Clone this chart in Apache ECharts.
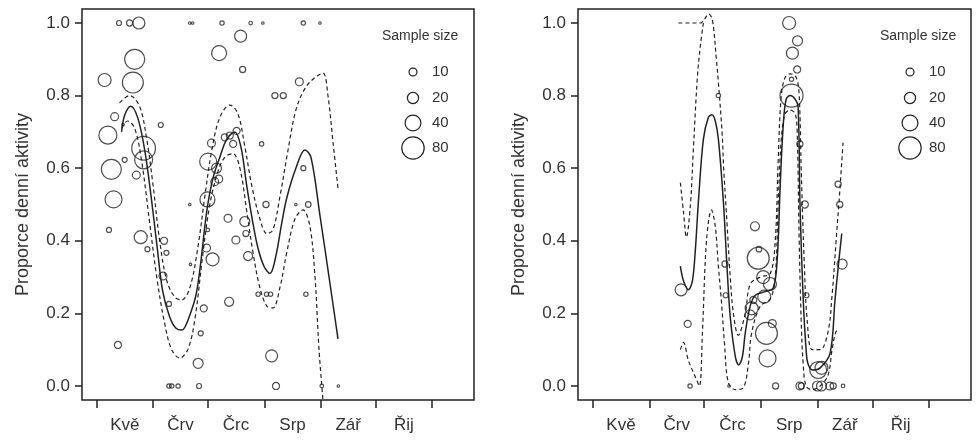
<!DOCTYPE html>
<html><head><meta charset="utf-8">
<script src="https://cdn.jsdelivr.net/npm/echarts@6/dist/echarts.min.js"></script>
<style>html,body{margin:0;padding:0;background:#fff}#c{width:976px;height:443px}</style>
</head><body><div id="c"></div>
<script>
// ---- axis / tick data ----
const monthLabels = ['Kvě','Črv','Črc','Srp','Zář','Řij'];
const monthStarts = [0, 31, 61, 92, 123, 153, 184];          // days since 1 May
const monthMids = [15.5, 46, 76.5, 107.5, 138, 168.5];
const yTicks = [0, 0.2, 0.4, 0.6, 0.8, 1.0];
const legendSizes = [10, 20, 40, 80];

// ---- left panel: observations (day, proportion, sample size) ----
const leftDay  = [12.3,18.1,23.2,4.4,20.9,19.9,9.9,14.5,6.2,15.4,25.8,25.8,21.8,8.1,9.3,6.8,24.2,27.9,11.7,35.2,37.0,38.3,36.4,39.7,51.1,51.5,39.7,41.2,44.7,56.2,58.8,57.1,55.7,52.7,51.1,60.8,61.2,65.8,63.0,64.8,67.0,60.3,63.6,61.0,67.2,68.8,79.0,80.1,70.3,73.1,76.8,74.9,72.1,76.4,81.3,81.9,83.1,72.7,84.5,91.2,90.5,92.9,97.8,102.4,88.6,93.2,95.4,96.0,98.4,111.2,113.4,122.5,109.3,116.1,113.4,114.8,123.5,132.6];
const leftProp = [1.0,1.0,1.0,0.843,0.90,0.836,0.742,0.72,0.691,0.623,0.655,0.623,0.581,0.597,0.514,0.43,0.41,0.377,0.113,0.719,0.40,0.367,0.303,0.226,0.50,0.335,0.0,0.0,0.0,0.0,0.214,0.145,0.0625,1.0,1.0,0.514,0.618,0.60,0.669,0.563,0.57,0.38,0.349,0.43,0.917,1.0,0.964,0.872,0.685,0.69,0.703,0.667,0.462,0.402,0.453,0.42,0.358,0.232,1.0,1.0,0.667,0.50,0.80,0.80,0.253,0.253,0.253,0.083,0.0,0.838,1.0,1.0,0.50,0.50,0.60,0.253,0.0,0.0];
const leftN    = [4,6,23,27,64,70,10,1,52,4,90,52,10,64,46,4,27,4,8,4,8,4,10,4,1,1,3,3,3,4,8,4,16,1,1,36,46,16,10,10,10,10,27,2,36,3,23,6,8,8,8,8,10,10,16,6,13,13,2,1,3,6,6,6,3,3,3,23,8,10,3,1,1,5,4,3,2,1];

// ---- left panel: fitted curve and confidence bands ----
const leftFitDay = [13.7,15.4,18.7,22.5,26.4,30.2,33.5,36.3,40.1,43.4,46.7,50.0,54.9,60.4,63.7,67.6,71.4,75.8,79.1,82.4,85.7,88.5,91.8,95.1,98.4,101.6,104.4,109.3,114.3,117.6,122.5,127.5,132.4];
const leftFit    = [0.70,0.746,0.771,0.74,0.65,0.51,0.37,0.26,0.19,0.16,0.154,0.18,0.26,0.48,0.57,0.63,0.68,0.70,0.66,0.55,0.45,0.38,0.33,0.31,0.36,0.45,0.52,0.60,0.65,0.63,0.47,0.30,0.13];
const leftUpDay  = [12.6,18.1,23.6,27.5,30.8,34.6,38.5,42.9,46.7,51.1,55.5,59.3,63.2,67.6,73.1,77.5,81.3,85.2,89.6,93.4,96.7,100.5,105.0,109.3,114.3,119.8,124.2,126.9,129.7,132.4];
const leftUp     = [0.78,0.80,0.77,0.68,0.56,0.40,0.29,0.245,0.237,0.27,0.38,0.52,0.65,0.74,0.774,0.75,0.66,0.55,0.46,0.42,0.43,0.52,0.65,0.76,0.82,0.85,0.862,0.80,0.67,0.545];
const leftLoDay  = [13.7,17.0,20.9,24.7,29.1,33.0,37.4,41.2,45.6,50.0,53.8,58.2,62.1,66.5,70.3,74.7,78.6,82.4,85.7,89.6,93.4,96.7,100.5,104.4,108.8,113.2,117.0,119.8,122.0,124.2];
const leftLo     = [0.71,0.73,0.71,0.62,0.45,0.30,0.17,0.10,0.077,0.10,0.18,0.36,0.50,0.59,0.63,0.64,0.60,0.48,0.37,0.27,0.22,0.215,0.27,0.37,0.46,0.485,0.44,0.30,0.10,-0.04];

// ---- right panel: observations ----
const rightDay  = [48.4,52.0,53.3,68.8,72.4,72.8,74.6,88.8,91.0,90.6,87.0,86.1,87.9,93.3,97.0,93.9,95.1,98.3,95.7,100.1,107.5,112.1,109.3,111.9,108.8,108.8,113.4,116.1,117.0,113.4,114.2,123.4,125.2,123.0,125.2,129.7,131.6,137.0,134.3,135.2,136.5];
const rightProp = [0.265,0.171,0.0,0.80,0.336,0.25,0.0,0.44,0.377,0.352,0.214,0.196,0.237,0.30,0.281,0.246,0.145,0.172,0.076,0.0,1.0,0.951,0.917,0.872,0.845,0.80,0.667,0.50,0.25,0.0,0.0,0.044,0.05,0.0,0.0,0.0,0.0,0.0,0.556,0.50,0.336];
const rightN    = [23,8,3,3,6,4,1,13,5,77,27,16,8,27,27,27,77,10,46,6,27,16,23,8,3,85,6,8,4,10,6,46,27,16,16,10,6,2,6,6,16];

// ---- right panel: fitted curve and confidence bands ----
const rightFitDay = [48.0,49.7,52.4,54.6,56.2,57.9,60.6,63.3,65.3,67.1,68.8,71.5,73.5,75.3,78.1,79.9,81.9,83.5,86.2,89.0,94.4,98.8,101.0,102.6,104.3,105.9,108.1,110.8,112.4,113.5,115.2,116.8,117.9,120.6,124.5,129.9,132.6,134.4,136.3];
const rightFit    = [0.33,0.29,0.265,0.29,0.375,0.51,0.68,0.74,0.747,0.73,0.68,0.51,0.33,0.19,0.08,0.058,0.08,0.146,0.22,0.25,0.26,0.27,0.35,0.55,0.72,0.79,0.80,0.79,0.77,0.49,0.24,0.10,0.06,0.044,0.05,0.09,0.237,0.33,0.42];
const rightUpDay  = [46.9,53.5,59.0,61.1,63.5,65.5,67.7,68.9,70.8,71.7,73.5,75.3,77.0,79.7,83.5,86.2,91.7,97.2,99.9,101.5,103.2,105.3,108.1,111.4,113.0,114.1,115.7,117.4,120.1,124.5,128.8,131.0,133.2,135.4,137.0];
const rightUp     = [1.0,1.0,1.0,1.01,1.025,1.01,0.90,0.83,0.70,0.60,0.45,0.30,0.20,0.14,0.20,0.28,0.30,0.31,0.40,0.62,0.80,0.85,0.86,0.85,0.80,0.60,0.35,0.18,0.10,0.10,0.15,0.25,0.40,0.55,0.67];
const rightUp2Day = [48.0,49.7,51.3,53.5,55.1,57.3,59.0,60.6];
const rightUp2    = [0.56,0.48,0.41,0.50,0.65,0.85,0.94,1.0];
const rightLoDay  = [48.0,49.7,52.4,56.2,58.4,60.1,62.3,65.0,67.1,68.8,70.4,72.1,74.2,78.1,82.4,85.2,87.0,91.7,97.2,99.9,101.5,103.2,105.3,108.1,110.8,111.9,113.0,114.1,115.2,116.8,120.1,124.5,128.8,131.0,133.2,135.2];
const rightLo     = [0.10,0.12,0.07,0.025,0.0,0.15,0.40,0.485,0.44,0.33,0.237,0.12,0.01,-0.01,-0.005,0.06,0.146,0.22,0.24,0.30,0.50,0.68,0.75,0.76,0.75,0.70,0.40,0.18,0.06,0.0,-0.01,0.0,0.03,0.10,0.15,0.155];

// ---- build ----
const zip = (...arrs) => arrs[0].map((_, i) => arrs.map(a => a[i]));
const sizeOf = n => 2.5 * Math.sqrt(n);
const FONT = 'Liberation Sans, Arial, sans-serif';
const INK = '#222';

function xAxisCfg(gi) {
  return {
    type: 'value', gridIndex: gi, min: -8, max: 207, position: 'bottom',
    axisLine: { show: false, onZero: false }, splitLine: { show: false },
    axisTick: { show: true, customValues: monthStarts, length: 8, lineStyle: { color: INK, width: 1.5 } },
    axisLabel: { customValues: monthMids, margin: 17, fontSize: 17, color: '#333', fontFamily: FONT,
      formatter: v => monthLabels[monthMids.indexOf(v)] }
  };
}
function yAxisCfg(gi) {
  return {
    type: 'value', gridIndex: gi, min: -0.0386, max: 1.0386, position: 'left',
    name: 'Proporce denní aktivity', nameLocation: 'middle', nameGap: 50,
    nameTextStyle: { fontSize: 18, color: '#333', fontFamily: FONT },
    axisLine: { show: false, onZero: false }, splitLine: { show: false },
    axisTick: { show: true, customValues: yTicks, length: 7, lineStyle: { color: INK, width: 1.5 } },
    axisLabel: { customValues: yTicks, margin: 12, fontSize: 17, color: '#333', fontFamily: FONT,
      formatter: v => v.toFixed(1) }
  };
}
function scatter(gi, d, p, n) {
  return { type: 'scatter', xAxisIndex: gi, yAxisIndex: gi, data: zip(d, p, n),
    symbol: 'circle', symbolSize: v => sizeOf(v[2]),
    itemStyle: { color: 'rgba(0,0,0,0)', borderColor: INK, borderWidth: 1.2 }, silent: true, z: 3 };
}
function line(gi, d, v, dashed) {
  return { type: 'line', xAxisIndex: gi, yAxisIndex: gi, data: zip(d, v), symbol: 'none', smooth: 0.35,
    lineStyle: { color: INK, width: dashed ? 1.2 : 1.5, type: dashed ? [4, 3] : 'solid' }, silent: true, z: 4 };
}
function legend(x0, yTop, textX) {
  const els = [{ type: 'text', left: textX, top: yTop - 9,
    style: { text: 'Sample size', fontSize: 14, fill: '#333', fontFamily: FONT } }];
  const ys = [72, 98, 123, 148];
  legendSizes.forEach((n, i) => {
    els.push({ type: 'circle', shape: { cx: x0, cy: ys[i], r: sizeOf(n) / 2 },
      style: { fill: 'none', stroke: INK, lineWidth: 1.2 } });
    els.push({ type: 'text', x: x0 + 19, y: ys[i], style: { text: String(n), fontSize: 15, fill: '#333',
      fontFamily: FONT, verticalAlign: 'middle', align: 'left' } });
  });
  return els;
}

const chart = echarts.init(document.getElementById('c'), null, { renderer: 'canvas' });
chart.setOption({
  animation: false,
  grid: [
    { left: 82, right: 502, top: 9, bottom: 43, show: true, borderColor: INK, borderWidth: 1.5, backgroundColor: 'transparent' },
    { left: 578, right: 5, top: 9, bottom: 43, show: true, borderColor: INK, borderWidth: 1.5, backgroundColor: 'transparent' }
  ],
  xAxis: [xAxisCfg(0), xAxisCfg(1)],
  yAxis: [yAxisCfg(0), yAxisCfg(1)],
  series: [
    scatter(0, leftDay, leftProp, leftN),
    line(0, leftFitDay, leftFit, false),
    line(0, leftUpDay, leftUp, true),
    line(0, leftLoDay, leftLo, true),
    scatter(1, rightDay, rightProp, rightN),
    line(1, rightFitDay, rightFit, false),
    line(1, rightUpDay, rightUp, true),
    line(1, rightUp2Day, rightUp2, true),
    line(1, rightLoDay, rightLo, true)
  ],
  graphic: legend(413, 38, 382).concat(legend(910, 38, 880))
});
</script></body></html>
